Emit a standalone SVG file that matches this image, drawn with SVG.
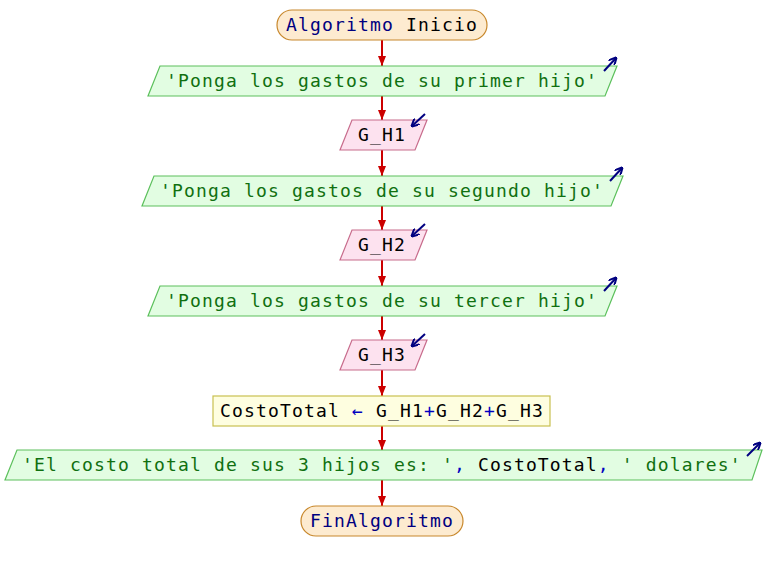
<svg xmlns="http://www.w3.org/2000/svg" width="764" height="570" viewBox="0 0 764 570">
  <defs>
    <marker id="flowHead" markerWidth="10" markerHeight="8" refX="10" refY="4" orient="auto" markerUnits="userSpaceOnUse">
      <path d="M0,0 L10,4 L0,8 Z" fill="#cc0000"/>
    </marker>
    <marker id="ioHead" markerWidth="8" markerHeight="8" refX="7" refY="4" orient="auto" markerUnits="userSpaceOnUse">
      <path d="M0,0 L8,4 L0,8" fill="none" stroke="#000080" stroke-width="2"/>
    </marker>
    <style>
      .term { fill: #fdebd0; stroke: #c8882c; stroke-width: 1.2; }
      .out { fill: #e2fde2; stroke: #5cc05c; stroke-width: 1.2; }
      .in { fill: #fde2ef; stroke: #c86c8c; stroke-width: 1.2; }
      .proc { fill: #fefee0; stroke: #c8c050; stroke-width: 1.2; }
      .flow { stroke: #cc0000; stroke-width: 2; fill: none; }
      .io { stroke: #000080; stroke-width: 2; fill: none; }
      text { font-family: "DejaVu Sans Mono", "Liberation Mono", monospace; font-size: 18px; letter-spacing: 1.16px; fill: #000000; }
      .kw { fill: #000080; }
      .str { fill: #107010; }
      .op { fill: #0000c0; }
    </style>
  </defs>

  <!-- connectors -->
  <g id="connectors">
    <line class="flow" x1="382" y1="40" x2="382" y2="66" marker-end="url(#flowHead)"/>
    <line class="flow" x1="382" y1="96" x2="382" y2="120" marker-end="url(#flowHead)"/>
    <line class="flow" x1="382" y1="150" x2="382" y2="176" marker-end="url(#flowHead)"/>
    <line class="flow" x1="382" y1="206" x2="382" y2="230" marker-end="url(#flowHead)"/>
    <line class="flow" x1="382" y1="260" x2="382" y2="286" marker-end="url(#flowHead)"/>
    <line class="flow" x1="382" y1="316" x2="382" y2="340" marker-end="url(#flowHead)"/>
    <line class="flow" x1="382" y1="370" x2="382" y2="396" marker-end="url(#flowHead)"/>
    <line class="flow" x1="382" y1="426" x2="382" y2="450" marker-end="url(#flowHead)"/>
    <line class="flow" x1="382" y1="480" x2="382" y2="506" marker-end="url(#flowHead)"/>
  </g>

  <g id="start">
    <rect class="term" x="277" y="10" width="210" height="30" rx="15" ry="15"/>
    <text x="286" y="31"><tspan class="kw">Algoritmo</tspan> Inicio</text>
  </g>

  <g id="out1">
    <polygon class="out" points="160,66 617,66 605,96 148,96"/>
    <line class="io" x1="604" y1="71" x2="616" y2="58" marker-end="url(#ioHead)"/>
    <text class="str" x="166" y="87">'Ponga los gastos de su primer hijo'</text>
  </g>

  <g id="in1">
    <polygon class="in" points="352,120 427,120 415,150 340,150"/>
    <line class="io" x1="425" y1="114" x2="412" y2="126" marker-end="url(#ioHead)"/>
    <text x="358" y="141">G_H1</text>
  </g>

  <g id="out2">
    <polygon class="out" points="154,176 623,176 611,206 142,206"/>
    <line class="io" x1="610" y1="181" x2="622" y2="168" marker-end="url(#ioHead)"/>
    <text class="str" x="160" y="197">'Ponga los gastos de su segundo hijo'</text>
  </g>

  <g id="in2">
    <polygon class="in" points="352,230 427,230 415,260 340,260"/>
    <line class="io" x1="425" y1="224" x2="412" y2="236" marker-end="url(#ioHead)"/>
    <text x="358" y="251">G_H2</text>
  </g>

  <g id="out3">
    <polygon class="out" points="160,286 617,286 605,316 148,316"/>
    <line class="io" x1="604" y1="291" x2="616" y2="278" marker-end="url(#ioHead)"/>
    <text class="str" x="166" y="307">'Ponga los gastos de su tercer hijo'</text>
  </g>

  <g id="in3">
    <polygon class="in" points="352,340 427,340 415,370 340,370"/>
    <line class="io" x1="425" y1="334" x2="412" y2="346" marker-end="url(#ioHead)"/>
    <text x="358" y="361">G_H3</text>
  </g>

  <g id="assign">
    <rect class="proc" x="213" y="396" width="337" height="30"/>
    <text x="220" y="417">CostoTotal <tspan class="op">←</tspan> G_H1<tspan class="op">+</tspan>G_H2<tspan class="op">+</tspan>G_H3</text>
  </g>

  <g id="out4">
    <polygon class="out" points="17,450 762,450 752,480 5,480"/>
    <line class="io" x1="747" y1="456" x2="760" y2="443" marker-end="url(#ioHead)"/>
    <text x="22" y="471"><tspan class="str">'El costo total de sus 3 hijos es: '</tspan><tspan class="op">,</tspan> CostoTotal<tspan class="op">,</tspan> <tspan class="str">' dolares'</tspan></text>
  </g>

  <g id="end">
    <rect class="term" x="301" y="506" width="162" height="30" rx="15" ry="15"/>
    <text class="kw" x="310" y="527">FinAlgoritmo</text>
  </g>
</svg>
